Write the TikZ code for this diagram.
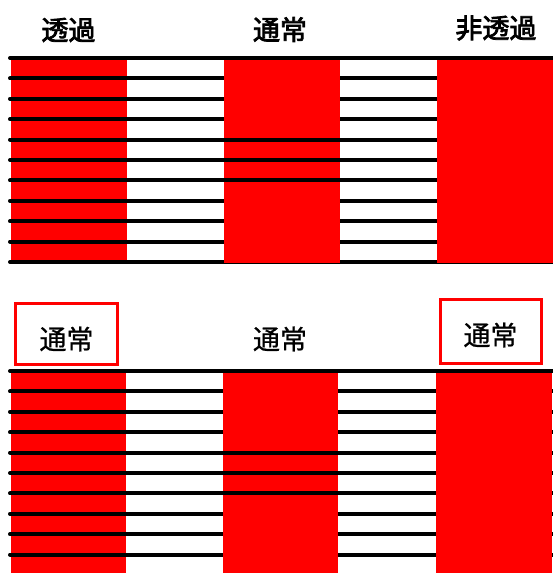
\documentclass[tikz,border=0pt]{standalone}
\usepackage{fontspec}
\newfontfamily\jptop[FakeBold=2.8]{Noto Sans CJK JP}
\newfontfamily\jp[FakeBold=0.7]{Noto Sans CJK JP}
\tikzset{
  wire/.style={black,line width=4pt,line cap=round},
  lbl/.style={font=\jp\fontsize{27}{30}\selectfont,inner sep=0pt},
  toplbl/.style={lbl,font=\jptop\fontsize{27}{30}\selectfont},
  redbox/.style={draw=red,line width=3pt},
}
\begin{document}
\begin{tikzpicture}[x=1pt,y=-1pt]
            \useasboundingbox (0,0) rectangle (553,573);
            % upper panel
            \fill[red] (11,60) rectangle (127,263);
            \foreach \k in {0,...,10} \draw[wire] (10,58+20.4*\k) -- (560,58+20.4*\k);
            \fill[red] (224,60) rectangle (340,263);
            \foreach \k in {4,5,6} \draw[wire,line cap=butt] (224,58+20.4*\k) -- (340,58+20.4*\k);
            \fill[red] (437,60) rectangle (560,263);
            \node[toplbl] (t1) at (68.5,30) {透過};
            \node[toplbl] (t2) at (280,29.5) {通常};
            \node[toplbl] (t3) at (496,28) {非透過};
            % lower panel
            \fill[red] (11,373) rectangle (126,580);
            \foreach \k in {0,...,10} \draw[wire] (10,371+20.4*\k) -- (560,371+20.4*\k);
            \fill[red] (223,373) rectangle (338,580);
            \foreach \k in {4,5,6} \draw[wire,line cap=butt] (223,371+20.4*\k) -- (338,371+20.4*\k);
            \fill[red] (436,373) rectangle (552,580);
            \node[lbl] (b1) at (66.5,339) {通常};
            \node[lbl] (b2) at (280,339) {通常};
            \node[lbl] (b3) at (490.5,335) {通常};
            \draw[redbox] (15.5,303.5) rectangle (117.5,364.5);
            \draw[redbox] (440.5,299.5) rectangle (541.5,363.5);
        \end{tikzpicture}
\end{document}
